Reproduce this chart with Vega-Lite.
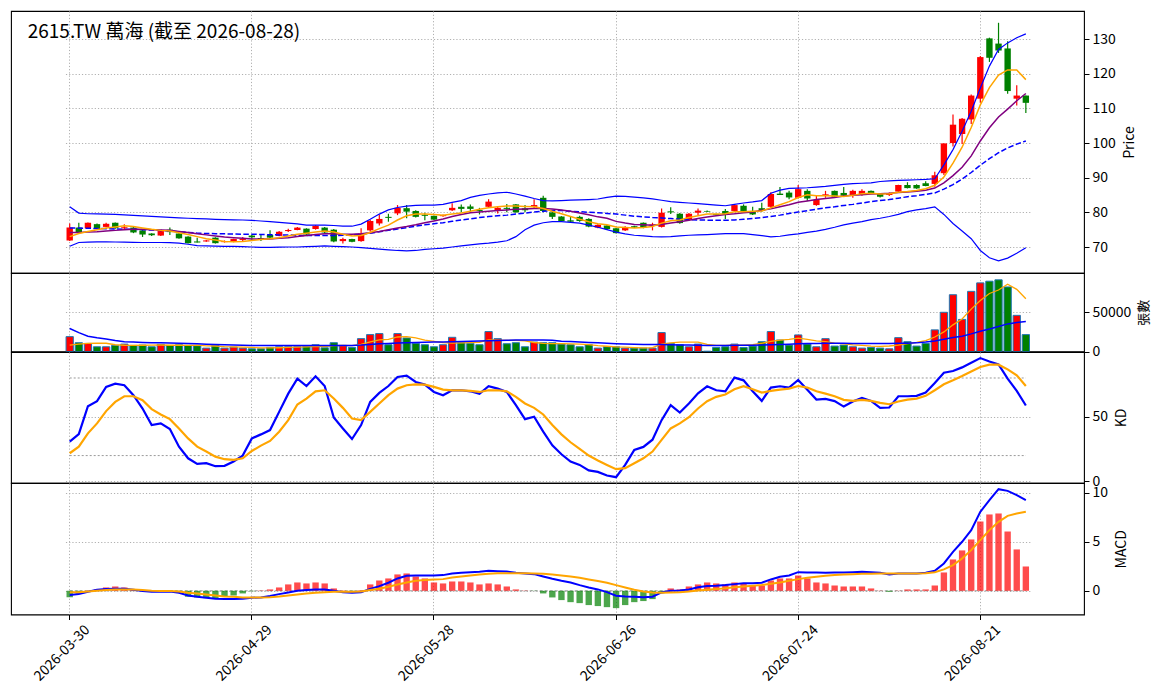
{
  "$schema": "https://vega.github.io/schema/vega-lite/v6.json",
  "description": "2615.TW candlestick chart with volume, KD and MACD panels",
  "background": "white",
  "padding": {"left": 10, "top": 10, "right": 5, "bottom": 5},
  "bounds": "flush",
  "config": {
    "font": "Noto Sans CJK TC",
    "view": {"stroke": "black", "strokeWidth": 1.1},
    "axis": {
      "labelFont": "Noto Sans CJK TC", "labelFontSize": 14, "labelColor": "black",
      "titleFont": "Noto Sans CJK TC", "titleFontSize": 14, "titleFontWeight": "normal", "titleColor": "black",
      "tickColor": "black", "tickSize": 5, "domain": false,
      "gridColor": "#b0b0b0", "gridDash": [1.2, 2], "gridWidth": 1
    },
    "axisY": {"titleBaseline": "top", "titleAngle": 270, "titlePadding": 7, "labelPadding": 3}
  },
  "datasets": {
    "kdref": [
      {"date": "2026-03-30", "lv": 80}, {"date": "2026-08-28", "lv": 80},
      {"date": "2026-03-30", "lv": 20}, {"date": "2026-08-28", "lv": 20}
    ],
    "zero": [{"date": "2026-03-30", "z": 0}, {"date": "2026-08-28", "z": 0}]
  },
  "data": {"values": [
    {"date":"2026-03-30","o":71.9,"h":76.8,"l":71.7,"c":75.6,"ma5":73.0,"ma10":74.2,"ma20":75.5,"bbu":81.6,"bbl":70.2,"v":18960,"vma5":8190,"vma20":29300,"k":30.8,"d":21.8,"dif":-0.44,"dea":-0.14,"hist":-0.65},
    {"date":"2026-03-31","o":75.6,"h":77.0,"l":74.0,"c":74.2,"ma5":73.9,"ma10":74.2,"ma20":75.45,"bbu":79.8,"bbl":71.3,"v":11200,"vma5":9300,"vma20":24000,"k":36.7,"d":26.9,"dif":-0.34,"dea":-0.14,"hist":-0.3},
    {"date":"2026-04-01","o":75.4,"h":77.1,"l":75.3,"c":77.0,"ma5":74.5,"ma10":74.3,"ma20":75.4,"bbu":79.6,"bbl":71.4,"v":10300,"vma5":10300,"vma20":19500,"k":58.2,"d":37.2,"dif":-0.1,"dea":-0.07,"hist":0.02},
    {"date":"2026-04-02","o":76.6,"h":76.8,"l":75.1,"c":75.2,"ma5":75.0,"ma10":74.4,"ma20":75.35,"bbu":79.55,"bbl":71.5,"v":6030,"vma5":10800,"vma20":17500,"k":62.1,"d":44.9,"dif":0.1,"dea":0.0,"hist":0.14},
    {"date":"2026-04-07","o":75.8,"h":77.0,"l":75.7,"c":76.7,"ma5":75.5,"ma10":74.6,"ma20":75.3,"bbu":79.5,"bbl":71.5,"v":6030,"vma5":10500,"vma20":15900,"k":73.1,"d":54.4,"dif":0.17,"dea":0.07,"hist":0.34},
    {"date":"2026-04-08","o":77.0,"h":77.1,"l":75.3,"c":75.4,"ma5":75.8,"ma10":74.8,"ma20":75.2,"bbu":79.4,"bbl":71.45,"v":7760,"vma5":8600,"vma20":14000,"k":75.6,"d":61.5,"dif":0.2,"dea":0.14,"hist":0.44},
    {"date":"2026-04-09","o":75.4,"h":76.6,"l":75.0,"c":75.7,"ma5":76.1,"ma10":75.0,"ma20":75.15,"bbu":79.25,"bbl":71.4,"v":9480,"vma5":8000,"vma20":12500,"k":74.4,"d":65.9,"dif":0.2,"dea":0.14,"hist":0.34},
    {"date":"2026-04-10","o":75.6,"h":75.8,"l":74.0,"c":74.2,"ma5":75.9,"ma10":75.1,"ma20":75.1,"bbu":79.1,"bbl":71.35,"v":7760,"vma5":7700,"vma20":12000,"k":66.7,"d":65.9,"dif":0.1,"dea":0.14,"hist":0.1},
    {"date":"2026-04-13","o":74.8,"h":74.9,"l":72.9,"c":73.6,"ma5":75.5,"ma10":75.1,"ma20":75.0,"bbu":79.0,"bbl":71.3,"v":8190,"vma5":8000,"vma20":11600,"k":56.4,"d":62.8,"dif":-0.03,"dea":0.07,"hist":0.02},
    {"date":"2026-04-14","o":73.9,"h":74.0,"l":73.2,"c":73.4,"ma5":75.1,"ma10":75.0,"ma20":74.9,"bbu":78.85,"bbl":71.3,"v":6030,"vma5":8200,"vma20":11300,"k":43.6,"d":55.9,"dif":-0.1,"dea":0.0,"hist":-0.02},
    {"date":"2026-04-15","o":73.3,"h":74.8,"l":73.2,"c":74.6,"ma5":74.8,"ma10":74.9,"ma20":74.75,"bbu":78.7,"bbl":71.3,"v":9050,"vma5":8300,"vma20":11000,"k":44.9,"d":51.8,"dif":-0.1,"dea":-0.03,"hist":-0.03},
    {"date":"2026-04-16","o":75.0,"h":75.6,"l":73.5,"c":74.3,"ma5":74.6,"ma10":74.8,"ma20":74.6,"bbu":78.55,"bbl":71.25,"v":7760,"vma5":8000,"vma20":10800,"k":40.5,"d":48.2,"dif":-0.07,"dea":-0.03,"hist":-0.02},
    {"date":"2026-04-17","o":73.9,"h":74.0,"l":72.4,"c":72.5,"ma5":74.1,"ma10":74.5,"ma20":74.4,"bbu":78.4,"bbl":71.1,"v":8620,"vma5":8000,"vma20":10500,"k":26.9,"d":41.0,"dif":-0.2,"dea":-0.07,"hist":-0.05},
    {"date":"2026-04-20","o":73.0,"h":73.1,"l":71.0,"c":71.1,"ma5":73.6,"ma10":74.2,"ma20":74.2,"bbu":78.3,"bbl":70.8,"v":7760,"vma5":7900,"vma20":10300,"k":17.9,"d":33.3,"dif":-0.48,"dea":-0.2,"hist":-0.61},
    {"date":"2026-04-21","o":71.6,"h":72.7,"l":71.3,"c":71.3,"ma5":73.0,"ma10":73.8,"ma20":74.0,"bbu":78.2,"bbl":70.4,"v":7330,"vma5":8000,"vma20":9800,"k":13.6,"d":26.9,"dif":-0.61,"dea":-0.27,"hist":-0.68},
    {"date":"2026-04-22","o":71.6,"h":72.0,"l":71.5,"c":71.9,"ma5":72.4,"ma10":73.5,"ma20":73.9,"bbu":78.1,"bbl":70.3,"v":4310,"vma5":7200,"vma20":9300,"k":14.1,"d":23.1,"dif":-0.71,"dea":-0.37,"hist":-0.75},
    {"date":"2026-04-23","o":72.7,"h":72.8,"l":71.0,"c":71.1,"ma5":72.0,"ma10":73.2,"ma20":73.85,"bbu":78.0,"bbl":70.25,"v":7760,"vma5":7000,"vma20":8900,"k":11.8,"d":19.2,"dif":-0.82,"dea":-0.48,"hist":-0.78},
    {"date":"2026-04-24","o":71.4,"h":71.9,"l":71.3,"c":71.7,"ma5":71.6,"ma10":72.9,"ma20":73.8,"bbu":77.9,"bbl":70.2,"v":4310,"vma5":6300,"vma20":8500,"k":12.1,"d":17.2,"dif":-0.85,"dea":-0.58,"hist":-0.54},
    {"date":"2026-04-27","o":71.5,"h":72.4,"l":71.4,"c":72.3,"ma5":71.5,"ma10":72.7,"ma20":73.75,"bbu":77.85,"bbl":70.2,"v":5600,"vma5":5900,"vma20":8200,"k":15.4,"d":16.7,"dif":-0.85,"dea":-0.61,"hist":-0.48},
    {"date":"2026-04-28","o":72.0,"h":72.9,"l":71.7,"c":72.3,"ma5":71.6,"ma10":72.5,"ma20":73.7,"bbu":77.8,"bbl":70.1,"v":4310,"vma5":5600,"vma20":8000,"k":20.0,"d":17.9,"dif":-0.82,"dea":-0.68,"hist":-0.27},
    {"date":"2026-04-29","o":73.3,"h":73.5,"l":72.0,"c":72.8,"ma5":71.9,"ma10":72.3,"ma20":73.7,"bbu":77.7,"bbl":70.0,"v":3450,"vma5":5200,"vma20":7800,"k":33.3,"d":23.6,"dif":-0.71,"dea":-0.68,"hist":-0.05},
    {"date":"2026-04-30","o":72.6,"h":73.5,"l":71.7,"c":72.3,"ma5":72.2,"ma10":72.3,"ma20":73.6,"bbu":77.5,"bbl":69.9,"v":3450,"vma5":4500,"vma20":7700,"k":36.4,"d":27.7,"dif":-0.68,"dea":-0.68,"hist":0.03},
    {"date":"2026-05-04","o":73.5,"h":74.8,"l":72.6,"c":72.7,"ma5":72.4,"ma10":72.3,"ma20":73.55,"bbu":77.3,"bbl":69.9,"v":5170,"vma5":4500,"vma20":7700,"k":39.7,"d":31.3,"dif":-0.54,"dea":-0.65,"hist":0.14},
    {"date":"2026-05-05","o":73.2,"h":74.6,"l":73.1,"c":74.4,"ma5":72.7,"ma10":72.5,"ma20":73.5,"bbu":77.1,"bbl":69.95,"v":6030,"vma5":4800,"vma20":7700,"k":53.8,"d":38.5,"dif":-0.34,"dea":-0.58,"hist":0.34},
    {"date":"2026-05-06","o":74.6,"h":75.3,"l":74.3,"c":74.9,"ma5":73.2,"ma10":72.7,"ma20":73.45,"bbu":76.9,"bbl":70.0,"v":6030,"vma5":5300,"vma20":7700,"k":67.9,"d":47.4,"dif":-0.17,"dea":-0.48,"hist":0.65},
    {"date":"2026-05-07","o":74.9,"h":75.8,"l":74.8,"c":75.6,"ma5":73.7,"ma10":73.0,"ma20":73.4,"bbu":76.7,"bbl":70.0,"v":6030,"vma5":5600,"vma20":7700,"k":79.5,"d":59.5,"dif":0.0,"dea":-0.37,"hist":0.85},
    {"date":"2026-05-08","o":75.3,"h":75.4,"l":73.5,"c":73.6,"ma5":74.0,"ma10":73.3,"ma20":73.3,"bbu":76.3,"bbl":70.1,"v":6460,"vma5":6000,"vma20":7700,"k":73.8,"d":64.1,"dif":0.07,"dea":-0.27,"hist":0.75},
    {"date":"2026-05-11","o":75.2,"h":76.3,"l":75.0,"c":76.1,"ma5":74.3,"ma10":73.6,"ma20":73.3,"bbu":76.3,"bbl":70.2,"v":8620,"vma5":6600,"vma20":7700,"k":81.3,"d":69.7,"dif":0.14,"dea":-0.2,"hist":0.85},
    {"date":"2026-05-12","o":75.6,"h":75.8,"l":74.0,"c":74.2,"ma5":74.6,"ma10":73.8,"ma20":73.3,"bbu":76.3,"bbl":70.3,"v":4740,"vma5":6400,"vma20":7700,"k":73.8,"d":70.5,"dif":0.14,"dea":-0.14,"hist":0.75},
    {"date":"2026-05-13","o":75.0,"h":75.2,"l":71.4,"c":71.6,"ma5":74.3,"ma10":73.8,"ma20":73.3,"bbu":76.2,"bbl":70.2,"v":11200,"vma5":7400,"vma20":7700,"k":49.5,"d":64.1,"dif":0.0,"dea":-0.1,"hist":0.24},
    {"date":"2026-05-14","o":71.7,"h":72.7,"l":71.0,"c":72.3,"ma5":73.7,"ma10":73.7,"ma20":73.4,"bbu":76.0,"bbl":70.1,"v":7760,"vma5":7800,"vma20":7700,"k":41.0,"d":56.9,"dif":-0.14,"dea":-0.1,"hist":0.03},
    {"date":"2026-05-15","o":72.3,"h":72.4,"l":71.4,"c":71.5,"ma5":73.2,"ma10":73.7,"ma20":73.5,"bbu":76.0,"bbl":70.0,"v":5170,"vma5":7500,"vma20":7800,"k":32.8,"d":48.7,"dif":-0.2,"dea":-0.1,"hist":-0.03},
    {"date":"2026-05-18","o":71.7,"h":75.4,"l":71.5,"c":73.9,"ma5":73.3,"ma10":73.8,"ma20":73.7,"bbu":76.6,"bbl":69.8,"v":16400,"vma5":9100,"vma20":8200,"k":43.6,"d":47.4,"dif":-0.14,"dea":-0.07,"hist":0.05},
    {"date":"2026-05-19","o":74.8,"h":77.8,"l":74.4,"c":77.5,"ma5":74.2,"ma10":74.1,"ma20":74.0,"bbu":78.0,"bbl":69.6,"v":21550,"vma5":12400,"vma20":9000,"k":61.5,"d":53.8,"dif":0.2,"dea":0.07,"hist":0.65},
    {"date":"2026-05-20","o":76.8,"h":79.4,"l":76.2,"c":78.1,"ma5":75.3,"ma10":74.5,"ma20":74.4,"bbu":79.5,"bbl":69.4,"v":22840,"vma5":14700,"vma20":9800,"k":68.5,"d":60.3,"dif":0.48,"dea":0.2,"hist":1.05},
    {"date":"2026-05-21","o":78.7,"h":79.6,"l":77.3,"c":78.4,"ma5":76.3,"ma10":75.0,"ma20":74.8,"bbu":80.7,"bbl":69.2,"v":8620,"vma5":15500,"vma20":10300,"k":73.8,"d":66.7,"dif":0.82,"dea":0.41,"hist":1.26},
    {"date":"2026-05-22","o":79.7,"h":82.1,"l":79.2,"c":81.3,"ma5":77.8,"ma10":75.5,"ma20":75.2,"bbu":81.4,"bbl":69.0,"v":22840,"vma5":18500,"vma20":10900,"k":80.8,"d":71.8,"dif":1.26,"dea":0.65,"hist":1.67},
    {"date":"2026-05-25","o":81.2,"h":82.1,"l":78.3,"c":80.2,"ma5":79.0,"ma10":75.9,"ma20":75.6,"bbu":81.8,"bbl":68.9,"v":17240,"vma5":19000,"vma20":11300,"k":81.8,"d":74.4,"dif":1.53,"dea":0.85,"hist":1.77},
    {"date":"2026-05-26","o":80.4,"h":80.6,"l":78.5,"c":78.7,"ma5":79.5,"ma10":76.4,"ma20":76.0,"bbu":82.0,"bbl":69.0,"v":10340,"vma5":17500,"vma20":11600,"k":76.9,"d":75.1,"dif":1.56,"dea":1.02,"hist":1.46},
    {"date":"2026-05-27","o":79.3,"h":79.9,"l":77.7,"c":79.0,"ma5":79.5,"ma10":77.0,"ma20":76.4,"bbu":82.1,"bbl":69.3,"v":8620,"vma5":14500,"vma20":11800,"k":74.9,"d":74.9,"dif":1.56,"dea":1.09,"hist":1.26},
    {"date":"2026-05-28","o":79.0,"h":79.1,"l":77.8,"c":77.9,"ma5":79.4,"ma10":77.5,"ma20":76.7,"bbu":82.1,"bbl":69.5,"v":6030,"vma5":13000,"vma20":12000,"k":69.2,"d":73.1,"dif":1.56,"dea":1.16,"hist":0.85},
    {"date":"2026-05-29","o":78.9,"h":79.4,"l":78.7,"c":79.2,"ma5":79.2,"ma10":78.1,"ma20":77.0,"bbu":82.3,"bbl":69.7,"v":8620,"vma5":11200,"vma20":12200,"k":66.7,"d":71.0,"dif":1.6,"dea":1.19,"hist":0.75},
    {"date":"2026-06-01","o":80.6,"h":82.6,"l":80.4,"c":81.3,"ma5":79.5,"ma10":78.8,"ma20":77.4,"bbu":82.9,"bbl":70.0,"v":18100,"vma5":10600,"vma20":12500,"k":70.5,"d":70.5,"dif":1.77,"dea":1.36,"hist":0.95},
    {"date":"2026-06-02","o":81.6,"h":82.3,"l":80.0,"c":81.0,"ma5":79.8,"ma10":79.4,"ma20":77.8,"bbu":83.4,"bbl":70.3,"v":11200,"vma5":11000,"vma20":12800,"k":70.5,"d":70.5,"dif":1.84,"dea":1.46,"hist":0.95},
    {"date":"2026-06-03","o":81.7,"h":82.3,"l":80.2,"c":81.0,"ma5":80.3,"ma10":79.9,"ma20":78.1,"bbu":84.3,"bbl":70.6,"v":10340,"vma5":11400,"vma20":13100,"k":69.7,"d":70.0,"dif":1.9,"dea":1.56,"hist":0.85},
    {"date":"2026-06-04","o":80.7,"h":81.3,"l":79.4,"c":80.4,"ma5":80.9,"ma10":80.1,"ma20":78.5,"bbu":84.9,"bbl":70.9,"v":8620,"vma5":11800,"vma20":13500,"k":67.7,"d":69.2,"dif":1.94,"dea":1.67,"hist":0.65},
    {"date":"2026-06-05","o":81.6,"h":83.8,"l":81.4,"c":83.1,"ma5":81.3,"ma10":80.3,"ma20":78.8,"bbu":85.3,"bbl":71.1,"v":25430,"vma5":14700,"vma20":13800,"k":73.6,"d":70.5,"dif":2.04,"dea":1.73,"hist":0.75},
    {"date":"2026-06-08","o":80.4,"h":81.6,"l":79.7,"c":81.3,"ma5":81.6,"ma10":80.5,"ma20":79.0,"bbu":85.6,"bbl":71.4,"v":16380,"vma5":14600,"vma20":14100,"k":71.8,"d":70.5,"dif":2.0,"dea":1.8,"hist":0.65},
    {"date":"2026-06-09","o":81.3,"h":82.4,"l":80.0,"c":81.0,"ma5":81.8,"ma10":80.7,"ma20":79.2,"bbu":85.8,"bbl":71.8,"v":9900,"vma5":14300,"vma20":14400,"k":69.2,"d":69.7,"dif":1.97,"dea":1.8,"hist":0.44},
    {"date":"2026-06-10","o":82.3,"h":82.4,"l":79.9,"c":80.0,"ma5":81.8,"ma10":80.9,"ma20":79.5,"bbu":85.3,"bbl":73.0,"v":11200,"vma5":14200,"vma20":14600,"k":59.0,"d":65.4,"dif":1.84,"dea":1.8,"hist":0.14},
    {"date":"2026-06-11","o":81.2,"h":82.1,"l":80.0,"c":80.6,"ma5":81.7,"ma10":81.0,"ma20":79.8,"bbu":84.7,"bbl":75.0,"v":6030,"vma5":13600,"vma20":14700,"k":48.2,"d":60.3,"dif":1.77,"dea":1.8,"hist":0.02},
    {"date":"2026-06-12","o":81.6,"h":83.8,"l":81.1,"c":82.1,"ma5":81.6,"ma10":81.1,"ma20":80.1,"bbu":84.0,"bbl":76.3,"v":12070,"vma5":11500,"vma20":14700,"k":50.0,"d":56.9,"dif":1.7,"dea":1.77,"hist":-0.02},
    {"date":"2026-06-15","o":84.2,"h":84.8,"l":80.0,"c":80.4,"ma5":81.1,"ma10":81.1,"ma20":80.3,"bbu":83.4,"bbl":77.0,"v":11200,"vma5":10300,"vma20":14600,"k":38.5,"d":51.8,"dif":1.45,"dea":1.73,"hist":-0.27},
    {"date":"2026-06-16","o":80.0,"h":80.7,"l":78.1,"c":78.7,"ma5":80.3,"ma10":81.0,"ma20":80.5,"bbu":83.3,"bbl":77.3,"v":11200,"vma5":10100,"vma20":14300,"k":28.0,"d":43.6,"dif":1.22,"dea":1.65,"hist":-0.68},
    {"date":"2026-06-17","o":78.8,"h":78.9,"l":77.4,"c":77.5,"ma5":79.6,"ma10":80.7,"ma20":80.5,"bbu":83.4,"bbl":77.3,"v":9480,"vma5":10000,"vma20":13200,"k":21.0,"d":36.4,"dif":1.02,"dea":1.56,"hist":-0.95},
    {"date":"2026-06-18","o":77.7,"h":78.7,"l":77.1,"c":77.3,"ma5":78.8,"ma10":80.3,"ma20":80.3,"bbu":83.5,"bbl":77.1,"v":8620,"vma5":9800,"vma20":12600,"k":15.4,"d":30.3,"dif":0.85,"dea":1.46,"hist":-1.16},
    {"date":"2026-06-22","o":78.7,"h":79.0,"l":77.3,"c":77.5,"ma5":78.0,"ma10":79.8,"ma20":80.2,"bbu":83.6,"bbl":76.9,"v":6030,"vma5":9300,"vma20":12000,"k":12.8,"d":25.1,"dif":0.58,"dea":1.33,"hist":-1.26},
    {"date":"2026-06-23","o":78.1,"h":78.3,"l":75.7,"c":75.9,"ma5":77.3,"ma10":79.3,"ma20":80.0,"bbu":83.7,"bbl":76.3,"v":8620,"vma5":8700,"vma20":11500,"k":8.5,"d":20.0,"dif":0.34,"dea":1.16,"hist":-1.46},
    {"date":"2026-06-24","o":75.6,"h":76.6,"l":75.4,"c":76.4,"ma5":76.7,"ma10":78.7,"ma20":79.9,"bbu":83.85,"bbl":75.7,"v":4310,"vma5":7400,"vma20":11000,"k":7.4,"d":16.2,"dif":0.14,"dea":0.99,"hist":-1.56},
    {"date":"2026-06-25","o":76.2,"h":76.3,"l":75.0,"c":75.2,"ma5":76.4,"ma10":78.3,"ma20":79.7,"bbu":84.3,"bbl":75.0,"v":6030,"vma5":6700,"vma20":10500,"k":4.6,"d":12.8,"dif":-0.14,"dea":0.82,"hist":-1.67},
    {"date":"2026-06-26","o":75.4,"h":75.5,"l":73.9,"c":74.0,"ma5":75.8,"ma10":77.4,"ma20":79.5,"bbu":84.7,"bbl":74.3,"v":6030,"vma5":5900,"vma20":10000,"k":3.3,"d":9.5,"dif":-0.51,"dea":0.58,"hist":-1.77},
    {"date":"2026-06-29","o":74.8,"h":76.0,"l":74.6,"c":75.8,"ma5":75.6,"ma10":76.9,"ma20":79.2,"bbu":84.6,"bbl":73.8,"v":4310,"vma5":5500,"vma20":9600,"k":12.8,"d":10.3,"dif":-0.58,"dea":0.34,"hist":-1.46},
    {"date":"2026-06-30","o":76.0,"h":76.1,"l":75.5,"c":75.6,"ma5":75.5,"ma10":76.5,"ma20":78.9,"bbu":84.4,"bbl":73.4,"v":4310,"vma5":5000,"vma20":9300,"k":24.4,"d":14.1,"dif":-0.61,"dea":0.1,"hist":-1.16},
    {"date":"2026-07-01","o":77.0,"h":77.1,"l":75.4,"c":75.6,"ma5":75.6,"ma10":76.4,"ma20":78.7,"bbu":84.2,"bbl":73.2,"v":4310,"vma5":4600,"vma20":9050,"k":26.7,"d":17.9,"dif":-0.65,"dea":-0.07,"hist":-1.05},
    {"date":"2026-07-02","o":76.2,"h":77.0,"l":74.8,"c":76.5,"ma5":75.9,"ma10":76.3,"ma20":78.5,"bbu":83.9,"bbl":73.0,"v":4310,"vma5":5000,"vma20":8900,"k":32.3,"d":23.1,"dif":-0.61,"dea":-0.17,"hist":-0.85},
    {"date":"2026-07-03","o":75.8,"h":81.1,"l":75.6,"c":79.9,"ma5":76.9,"ma10":76.5,"ma20":78.4,"bbu":83.5,"bbl":72.9,"v":24140,"vma5":9500,"vma20":8800,"k":47.4,"d":32.1,"dif":-0.17,"dea":-0.2,"hist":-0.25},
    {"date":"2026-07-06","o":80.3,"h":81.5,"l":79.5,"c":80.0,"ma5":77.6,"ma10":76.9,"ma20":78.2,"bbu":83.1,"bbl":73.0,"v":10340,"vma5":11000,"vma20":8600,"k":59.0,"d":41.0,"dif":0.0,"dea":-0.17,"hist":0.24},
    {"date":"2026-07-07","o":79.6,"h":79.8,"l":76.7,"c":76.9,"ma5":77.8,"ma10":77.3,"ma20":78.0,"bbu":82.9,"bbl":73.2,"v":8620,"vma5":12000,"vma20":8400,"k":53.3,"d":44.9,"dif":0.03,"dea":-0.14,"hist":0.14},
    {"date":"2026-07-08","o":77.9,"h":79.8,"l":77.7,"c":79.6,"ma5":78.5,"ma10":77.7,"ma20":77.9,"bbu":82.7,"bbl":73.4,"v":6030,"vma5":12000,"vma20":8200,"k":60.3,"d":49.7,"dif":0.14,"dea":-0.07,"hist":0.44},
    {"date":"2026-07-09","o":79.9,"h":81.1,"l":79.2,"c":80.5,"ma5":79.0,"ma10":78.2,"ma20":77.8,"bbu":82.5,"bbl":73.5,"v":9480,"vma5":12000,"vma20":8000,"k":68.2,"d":56.4,"dif":0.37,"dea":0.03,"hist":0.65},
    {"date":"2026-07-10","o":80.4,"h":80.5,"l":80.1,"c":80.2,"ma5":79.5,"ma10":78.65,"ma20":77.75,"bbu":82.3,"bbl":73.6,"v":400,"vma5":9000,"vma20":7800,"k":73.6,"d":62.1,"dif":0.48,"dea":0.1,"hist":0.85},
    {"date":"2026-07-13","o":79.5,"h":79.6,"l":79.0,"c":79.2,"ma5":79.5,"ma10":79.0,"ma20":77.7,"bbu":82.1,"bbl":73.7,"v":5170,"vma5":7800,"vma20":7800,"k":70.5,"d":65.4,"dif":0.51,"dea":0.17,"hist":0.75},
    {"date":"2026-07-14","o":80.4,"h":81.0,"l":78.1,"c":79.4,"ma5":79.6,"ma10":79.4,"ma20":77.7,"bbu":81.9,"bbl":73.85,"v":6030,"vma5":7700,"vma20":7800,"k":69.7,"d":67.2,"dif":0.58,"dea":0.27,"hist":0.65},
    {"date":"2026-07-15","o":80.4,"h":82.3,"l":80.2,"c":82.1,"ma5":80.2,"ma10":79.6,"ma20":77.8,"bbu":82.3,"bbl":73.9,"v":9480,"vma5":8000,"vma20":7900,"k":80.3,"d":71.3,"dif":0.68,"dea":0.37,"hist":0.85},
    {"date":"2026-07-16","o":81.9,"h":82.3,"l":79.9,"c":80.4,"ma5":80.2,"ma10":79.9,"ma20":78.0,"bbu":82.7,"bbl":73.85,"v":5170,"vma5":8200,"vma20":8000,"k":78.2,"d":73.6,"dif":0.78,"dea":0.44,"hist":0.75},
    {"date":"2026-07-17","o":80.4,"h":81.6,"l":79.2,"c":79.4,"ma5":80.3,"ma10":80.1,"ma20":78.2,"bbu":83.0,"bbl":73.6,"v":6900,"vma5":8800,"vma20":8100,"k":69.7,"d":71.3,"dif":0.78,"dea":0.51,"hist":0.54},
    {"date":"2026-07-20","o":81.2,"h":82.8,"l":80.2,"c":80.4,"ma5":80.4,"ma10":80.6,"ma20":78.5,"bbu":83.4,"bbl":73.3,"v":12500,"vma5":10500,"vma20":8300,"k":62.3,"d":68.7,"dif":0.82,"dea":0.58,"hist":0.54},
    {"date":"2026-07-21","o":81.6,"h":85.8,"l":81.3,"c":85.3,"ma5":81.3,"ma10":81.0,"ma20":78.8,"bbu":85.5,"bbl":72.9,"v":25430,"vma5":13000,"vma20":8600,"k":72.6,"d":70.0,"dif":1.16,"dea":0.71,"hist":1.05},
    {"date":"2026-07-22","o":85.4,"h":87.3,"l":85.0,"c":85.0,"ma5":82.2,"ma10":81.6,"ma20":79.2,"bbu":86.4,"bbl":73.1,"v":14650,"vma5":14500,"vma20":9000,"k":73.6,"d":71.0,"dif":1.43,"dea":0.85,"hist":1.26},
    {"date":"2026-07-23","o":85.7,"h":86.2,"l":83.8,"c":84.3,"ma5":83.1,"ma10":82.2,"ma20":79.7,"bbu":86.9,"bbl":73.5,"v":8190,"vma5":15500,"vma20":9400,"k":72.6,"d":71.8,"dif":1.56,"dea":1.02,"hist":1.26},
    {"date":"2026-07-24","o":84.2,"h":87.9,"l":84.0,"c":86.7,"ma5":84.3,"ma10":82.9,"ma20":80.1,"bbu":87.0,"bbl":73.8,"v":21120,"vma5":17000,"vma20":9800,"k":78.5,"d":73.8,"dif":1.9,"dea":1.19,"hist":1.56},
    {"date":"2026-07-27","o":86.2,"h":86.7,"l":83.3,"c":84.0,"ma5":85.1,"ma10":83.3,"ma20":80.5,"bbu":87.1,"bbl":74.2,"v":9480,"vma5":15500,"vma20":10200,"k":71.0,"d":72.6,"dif":1.87,"dea":1.33,"hist":1.26},
    {"date":"2026-07-28","o":82.1,"h":84.8,"l":81.9,"c":83.6,"ma5":84.8,"ma10":83.7,"ma20":80.9,"bbu":87.3,"bbl":74.6,"v":6030,"vma5":13500,"vma20":10300,"k":63.3,"d":69.7,"dif":1.87,"dea":1.43,"hist":0.85},
    {"date":"2026-07-29","o":84.8,"h":86.2,"l":84.2,"c":85.2,"ma5":84.8,"ma10":84.0,"ma20":81.3,"bbu":87.5,"bbl":75.1,"v":16380,"vma5":12500,"vma20":10400,"k":63.8,"d":67.9,"dif":1.84,"dea":1.53,"hist":0.75},
    {"date":"2026-07-30","o":86.2,"h":86.3,"l":84.4,"c":84.5,"ma5":84.7,"ma10":84.3,"ma20":81.6,"bbu":87.8,"bbl":75.7,"v":6900,"vma5":10800,"vma20":10400,"k":62.1,"d":65.9,"dif":1.87,"dea":1.6,"hist":0.54},
    {"date":"2026-07-31","o":85.6,"h":87.3,"l":84.5,"c":84.8,"ma5":84.6,"ma10":84.7,"ma20":82.0,"bbu":88.1,"bbl":76.4,"v":8190,"vma5":9800,"vma20":10400,"k":57.9,"d":63.1,"dif":1.87,"dea":1.67,"hist":0.44},
    {"date":"2026-08-03","o":85.0,"h":86.5,"l":84.2,"c":86.2,"ma5":84.9,"ma10":84.9,"ma20":82.3,"bbu":88.3,"bbl":76.9,"v":6030,"vma5":8500,"vma20":10300,"k":61.8,"d":62.3,"dif":1.9,"dea":1.7,"hist":0.44},
    {"date":"2026-08-04","o":85.2,"h":86.7,"l":84.8,"c":86.2,"ma5":85.4,"ma10":85.1,"ma20":82.7,"bbu":88.4,"bbl":77.3,"v":4310,"vma5":7800,"vma20":10300,"k":64.6,"d":63.1,"dif":1.94,"dea":1.73,"hist":0.44},
    {"date":"2026-08-05","o":86.2,"h":86.3,"l":85.3,"c":85.5,"ma5":85.5,"ma10":85.3,"ma20":83.1,"bbu":88.5,"bbl":77.9,"v":5170,"vma5":6800,"vma20":10300,"k":62.3,"d":62.3,"dif":1.9,"dea":1.73,"hist":0.24},
    {"date":"2026-08-06","o":85.5,"h":85.6,"l":84.3,"c":84.5,"ma5":85.3,"ma10":85.4,"ma20":83.4,"bbu":88.9,"bbl":78.3,"v":4310,"vma5":6500,"vma20":10300,"k":56.9,"d":60.8,"dif":1.84,"dea":1.77,"hist":0.02},
    {"date":"2026-08-07","o":85.0,"h":85.7,"l":84.7,"c":85.3,"ma5":85.4,"ma10":85.5,"ma20":83.7,"bbu":89.1,"bbl":78.8,"v":3450,"vma5":7000,"vma20":10300,"k":57.2,"d":59.7,"dif":1.67,"dea":1.77,"hist":-0.1},
    {"date":"2026-08-10","o":86.0,"h":88.0,"l":85.9,"c":87.9,"ma5":85.8,"ma10":85.7,"ma20":84.1,"bbu":89.2,"bbl":79.4,"v":17670,"vma5":8000,"vma20":10400,"k":65.9,"d":61.8,"dif":1.77,"dea":1.77,"hist":0.02},
    {"date":"2026-08-11","o":87.9,"h":88.7,"l":86.9,"c":87.0,"ma5":86.0,"ma10":85.9,"ma20":84.5,"bbu":89.3,"bbl":80.2,"v":12500,"vma5":10000,"vma20":10500,"k":65.9,"d":63.3,"dif":1.77,"dea":1.77,"hist":0.14},
    {"date":"2026-08-12","o":87.9,"h":88.1,"l":86.8,"c":86.9,"ma5":86.3,"ma10":86.1,"ma20":84.8,"bbu":89.4,"bbl":80.7,"v":6900,"vma5":11500,"vma20":11000,"k":66.2,"d":64.1,"dif":1.77,"dea":1.77,"hist":0.14},
    {"date":"2026-08-13","o":88.4,"h":89.0,"l":87.5,"c":87.6,"ma5":86.8,"ma10":86.4,"ma20":85.2,"bbu":89.5,"bbl":81.1,"v":10340,"vma5":14000,"vma20":12000,"k":68.7,"d":66.2,"dif":1.84,"dea":1.8,"hist":0.14},
    {"date":"2026-08-14","o":88.2,"h":91.7,"l":87.4,"c":90.7,"ma5":87.8,"ma10":87.0,"ma20":85.6,"bbu":89.7,"bbl":81.6,"v":27580,"vma5":18500,"vma20":13300,"k":76.2,"d":70.5,"dif":2.04,"dea":1.9,"hist":0.54},
    {"date":"2026-08-17","o":91.3,"h":99.9,"l":90.8,"c":99.9,"ma5":90.2,"ma10":88.5,"ma20":86.7,"bbu":93.7,"bbl":79.4,"v":50000,"vma5":25000,"vma20":15500,"k":84.1,"d":75.1,"dif":2.79,"dea":2.18,"hist":1.87},
    {"date":"2026-08-18","o":100.0,"h":108.2,"l":99.0,"c":105.3,"ma5":94.2,"ma10":90.6,"ma20":88.0,"bbu":98.1,"bbl":76.8,"v":72400,"vma5":34000,"vma20":17800,"k":85.4,"d":78.2,"dif":3.98,"dea":2.62,"hist":3.2},
    {"date":"2026-08-19","o":102.6,"h":107.2,"l":99.7,"c":107.0,"ma5":98.8,"ma10":93.0,"ma20":89.6,"bbu":103.4,"bbl":74.6,"v":40900,"vma5":41400,"vma20":19500,"k":88.2,"d":81.5,"dif":5.0,"dea":3.3,"hist":4.12},
    {"date":"2026-08-20","o":106.8,"h":114.0,"l":105.5,"c":113.7,"ma5":104.5,"ma10":96.3,"ma20":91.5,"bbu":109.2,"bbl":72.4,"v":76700,"vma5":54000,"vma20":22500,"k":91.8,"d":85.1,"dif":6.19,"dea":4.15,"hist":5.24},
    {"date":"2026-08-21","o":112.8,"h":125.1,"l":111.6,"c":124.8,"ma5":111.0,"ma10":100.6,"ma20":93.6,"bbu":115.9,"bbl":69.0,"v":87500,"vma5":65000,"vma20":25800,"k":95.4,"d":88.5,"dif":8.06,"dea":5.17,"hist":7.07},
    {"date":"2026-08-24","o":130.2,"h":130.4,"l":123.4,"c":124.6,"ma5":116.0,"ma10":104.4,"ma20":95.5,"bbu":122.2,"bbl":66.9,"v":89650,"vma5":74000,"vma20":28800,"k":92.8,"d":90.3,"dif":9.25,"dea":6.19,"hist":7.79},
    {"date":"2026-08-25","o":128.7,"h":134.7,"l":126.0,"c":126.7,"ma5":119.6,"ma10":107.5,"ma20":97.2,"bbu":127.0,"bbl":66.0,"v":91400,"vma5":78400,"vma20":32000,"k":90.5,"d":90.3,"dif":10.37,"dea":7.04,"hist":7.89},
    {"date":"2026-08-26","o":127.3,"h":129.4,"l":114.2,"c":115.0,"ma5":121.1,"ma10":109.8,"ma20":98.6,"bbu":128.9,"bbl":66.8,"v":82300,"vma5":85800,"vma20":35200,"k":79.5,"d":86.7,"dif":10.2,"dea":7.65,"hist":6.05},
    {"date":"2026-08-27","o":112.8,"h":116.7,"l":110.8,"c":113.7,"ma5":121.1,"ma10":112.2,"ma20":99.7,"bbu":130.4,"bbl":68.2,"v":46100,"vma5":79200,"vma20":37000,"k":70.0,"d":82.1,"dif":9.76,"dea":7.89,"hist":4.22},
    {"date":"2026-08-28","o":113.7,"h":113.7,"l":108.7,"c":111.6,"ma5":118.3,"ma10":114.3,"ma20":100.6,"bbu":131.5,"bbl":69.8,"v":21550,"vma5":67200,"vma20":38400,"k":58.7,"d":73.8,"dif":9.25,"dea":8.06,"hist":2.48}
  ]},
  "spacing": 0,
  "resolve": {"scale": {"x": "shared"}},
  "vconcat": [
    {
      "width": 1073, "height": 262,
      "encoding": {
        "x": {"field": "date", "type": "ordinal",
          "scale": {"type": "band", "paddingInner": 0, "paddingOuter": 0, "range": [54.15, 1019.4]},
          "axis": {"values": ["2026-03-30","2026-04-29","2026-05-28","2026-06-26","2026-07-24","2026-08-21"], "labels": false, "ticks": false, "domain": false, "title": null, "grid": true, "bandPosition": 0.5, "minExtent": 0, "maxExtent": 0}}
      },
      "layer": [
        {"mark": {"type": "rule", "strokeWidth": 1.2},
         "encoding": {
           "y": {"field": "l", "type": "quantitative", "scale": {"domain": [62.5, 138.1], "nice": false, "zero": false},
                 "axis": {"orient": "right", "values": [70, 80, 90, 100, 110, 120, 130], "title": "Price", "grid": true}},
           "y2": {"field": "h"},
           "color": {"condition": {"test": "datum.c >= datum.o", "value": "#ff0000"}, "value": "#008000"}}},
        {"mark": {"type": "bar", "width": {"band": 0.7}},
         "encoding": {
           "y": {"field": "o", "type": "quantitative",
                 "axis": {"orient": "right", "values": [70, 80, 90, 100, 110, 120, 130], "title": "Price", "grid": true}},
           "y2": {"field": "c"},
           "color": {"condition": {"test": "datum.c >= datum.o", "value": "#ff0000"}, "value": "#008000"}}},
        {"mark": {"type": "line", "color": "#0000ff", "strokeWidth": 1.2},
         "encoding": {"y": {"field": "bbu", "type": "quantitative",
                 "axis": {"orient": "right", "values": [70, 80, 90, 100, 110, 120, 130], "title": "Price", "grid": true}}}},
        {"mark": {"type": "line", "color": "#0000ff", "strokeWidth": 1.2},
         "encoding": {"y": {"field": "bbl", "type": "quantitative",
                 "axis": {"orient": "right", "values": [70, 80, 90, 100, 110, 120, 130], "title": "Price", "grid": true}}}},
        {"mark": {"type": "line", "color": "#0000ff", "strokeWidth": 1.5, "strokeDash": [5.5, 2.4]},
         "encoding": {"y": {"field": "ma20", "type": "quantitative",
                 "axis": {"orient": "right", "values": [70, 80, 90, 100, 110, 120, 130], "title": "Price", "grid": true}}}},
        {"mark": {"type": "line", "color": "#800080", "strokeWidth": 1.5},
         "encoding": {"y": {"field": "ma10", "type": "quantitative",
                 "axis": {"orient": "right", "values": [70, 80, 90, 100, 110, 120, 130], "title": "Price", "grid": true}}}},
        {"mark": {"type": "line", "color": "#ffa500", "strokeWidth": 1.5},
         "encoding": {"y": {"field": "ma5", "type": "quantitative",
                 "axis": {"orient": "right", "values": [70, 80, 90, 100, 110, 120, 130], "title": "Price", "grid": true}}}},
        {"transform": [{"filter": "datum.date === '2026-03-30'"}],
         "mark": {"type": "text", "align": "left", "baseline": "middle", "dx": -42, "fontSize": 19, "font": "Noto Sans CJK TC", "color": "black"},
         "encoding": {"y": {"datum": 132, "type": "quantitative",
                 "axis": {"orient": "right", "values": [70, 80, 90, 100, 110, 120, 130], "title": "Price", "grid": true}},
                 "text": {"value": "2615.TW 萬海 (截至 2026-08-28)"}}}
      ]
    },
    {
      "width": 1073, "height": 78.5,
      "encoding": {
        "x": {"field": "date", "type": "ordinal",
          "scale": {"type": "band", "paddingInner": 0, "paddingOuter": 0, "range": [54.15, 1019.4]},
          "axis": {"values": ["2026-03-30","2026-04-29","2026-05-28","2026-06-26","2026-07-24","2026-08-21"], "labels": false, "ticks": false, "domain": false, "title": null, "grid": true, "bandPosition": 0.5, "minExtent": 0, "maxExtent": 0}}
      },
      "layer": [
        {"mark": {"type": "bar", "width": {"band": 0.8}, "stroke": "#1f77b4", "strokeWidth": 1},
         "encoding": {
           "y": {"field": "v", "type": "quantitative", "scale": {"domain": [0, 100100], "nice": false},
                 "axis": {"orient": "right", "values": [0, 50000], "format": "d", "title": "張數", "titleFontSize": 13, "grid": true}},
           "color": {"condition": {"test": "datum.c >= datum.o", "value": "#ff0000"}, "value": "#008000"}}},
        {"mark": {"type": "line", "color": "#ffa500", "strokeWidth": 1.3},
         "encoding": {"y": {"field": "vma5", "type": "quantitative",
                 "axis": {"orient": "right", "values": [0, 50000], "format": "d", "title": "張數", "titleFontSize": 13, "grid": true}}}},
        {"mark": {"type": "line", "color": "#0000ff", "strokeWidth": 1.5},
         "encoding": {"y": {"field": "vma20", "type": "quantitative",
                 "axis": {"orient": "right", "values": [0, 50000], "format": "d", "title": "張數", "titleFontSize": 13, "grid": true}}}}
      ]
    },
    {
      "width": 1073, "height": 131,
      "encoding": {
        "x": {"field": "date", "type": "ordinal",
          "scale": {"type": "band", "paddingInner": 0, "paddingOuter": 0, "range": [54.15, 1019.4]},
          "axis": {"values": ["2026-03-30","2026-04-29","2026-05-28","2026-06-26","2026-07-24","2026-08-21"], "labels": false, "ticks": false, "domain": false, "title": null, "grid": true, "bandPosition": 0.5, "minExtent": 0, "maxExtent": 0}}
      },
      "layer": [
        {"data": {"name": "kdref"},
         "mark": {"type": "line", "color": "#999999", "strokeWidth": 1, "strokeDash": [2, 2]},
         "encoding": {
           "y": {"field": "lv", "type": "quantitative", "scale": {"domain": [-1.2, 100.1], "nice": false, "zero": false},
                 "axis": {"orient": "right", "values": [0, 50], "title": "KD", "grid": true}},
           "detail": {"field": "lv"}}},
        {"mark": {"type": "line", "color": "#0000ff", "strokeWidth": 2.2},
         "encoding": {"y": {"field": "k", "type": "quantitative",
                 "axis": {"orient": "right", "values": [0, 50], "title": "KD", "grid": true}}}},
        {"mark": {"type": "line", "color": "#ffa500", "strokeWidth": 2.2},
         "encoding": {"y": {"field": "d", "type": "quantitative",
                 "axis": {"orient": "right", "values": [0, 50], "title": "KD", "grid": true}}}}
      ]
    },
    {
      "width": 1073, "height": 131.5,
      "encoding": {
        "x": {"field": "date", "type": "ordinal",
          "scale": {"type": "band", "paddingInner": 0, "paddingOuter": 0, "range": [54.15, 1019.4]},
          "axis": {"values": ["2026-03-30","2026-04-29","2026-05-28","2026-06-26","2026-07-24","2026-08-21"], "title": null, "grid": true, "bandPosition": 0.5, "domain": false, "ticks": true, "tickSize": 5, "labelAngle": -45, "labelAlign": "right", "labelBaseline": "middle", "labelOffset": 18, "labelPadding": 8, "labelOverlap": false}}
      },
      "layer": [
        {"data": {"name": "zero"},
         "mark": {"type": "line", "color": "#999999", "strokeWidth": 1, "strokeDash": [3, 2]},
         "encoding": {
           "y": {"field": "z", "type": "quantitative", "scale": {"domain": [-2.42, 11.0], "nice": false, "zero": false},
                 "axis": {"orient": "right", "values": [0, 5, 10], "title": "MACD", "grid": true}}}},
        {"mark": {"type": "bar", "width": {"band": 0.7}, "opacity": 0.7},
         "encoding": {
           "y": {"field": "hist", "type": "quantitative",
                 "axis": {"orient": "right", "values": [0, 5, 10], "title": "MACD", "grid": true}},
           "y2": {"datum": 0},
           "color": {"condition": {"test": "datum.hist >= 0", "value": "#ff0000"}, "value": "#008000"}}},
        {"mark": {"type": "line", "color": "#0000ff", "strokeWidth": 2},
         "encoding": {"y": {"field": "dif", "type": "quantitative",
                 "axis": {"orient": "right", "values": [0, 5, 10], "title": "MACD", "grid": true}}}},
        {"mark": {"type": "line", "color": "#ffa500", "strokeWidth": 2},
         "encoding": {"y": {"field": "dea", "type": "quantitative",
                 "axis": {"orient": "right", "values": [0, 5, 10], "title": "MACD", "grid": true}}}}
      ]
    }
  ]
}
